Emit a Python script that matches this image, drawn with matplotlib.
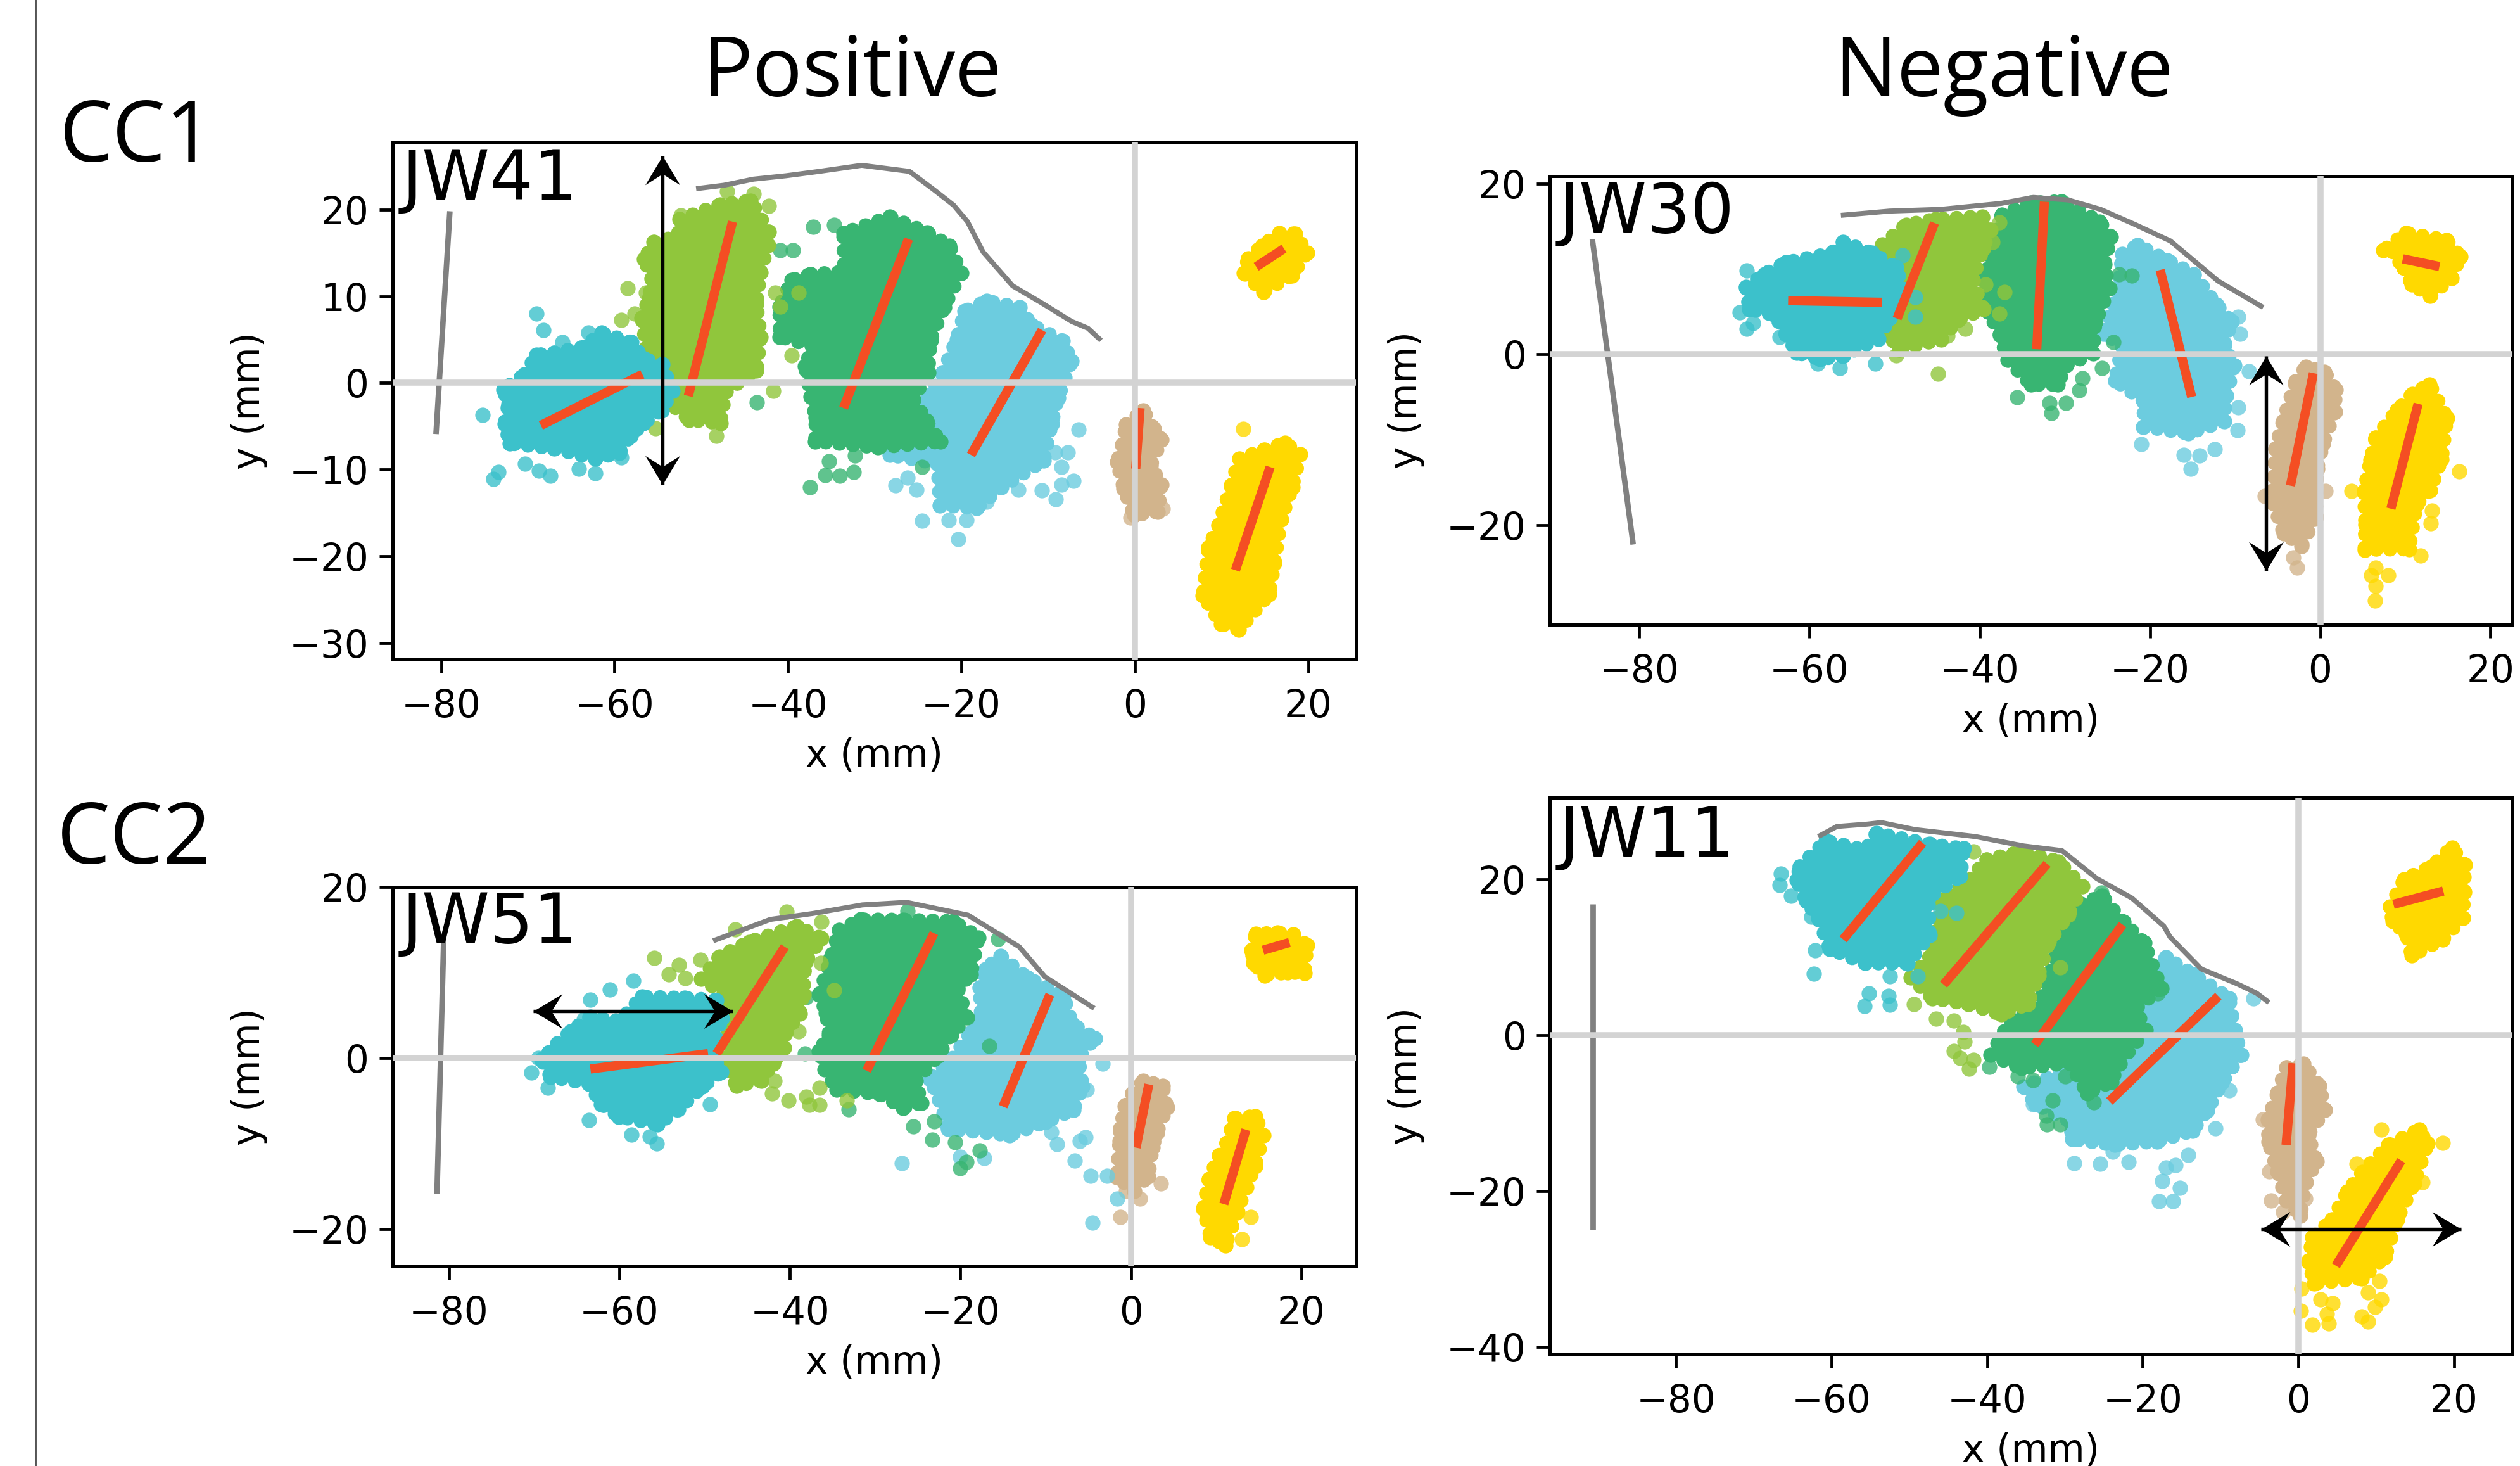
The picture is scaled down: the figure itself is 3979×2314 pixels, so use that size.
import matplotlib
matplotlib.use("Agg")
import matplotlib.pyplot as plt
from matplotlib.lines import Line2D
from matplotlib.path import Path
from matplotlib.transforms import Affine2D
import numpy as np

W, H = 3979, 2314
DPI = 300
plt.rcParams.update({"font.size": 14.3, "axes.linewidth": 1.2, "xtick.major.size": 5, "ytick.major.size": 5,
                     "xtick.major.width": 1.15, "ytick.major.width": 1.15, "axes.unicode_minus": True,
                     "xtick.major.pad": 5.9, "ytick.major.pad": 4.0, "axes.labelpad": 4.5})

CYAN, LIME, GREEN, LBLUE, TAN, GOLD = "#3CC1CB", "#90C63C", "#38B572", "#6CCCDF", "#D2B48C", "#FFD900"
RED, GREY, LGREY = "#F44E23", "#808080", "#D3D3D3"
XTICKS = [-80, -60, -40, -20, 0, 20]

# ---------------------------------------------------------------- JW41
a_cyan = [(-71.1,1.2),(-69.6,3.7),(-67.4,4.1),(-63.6,4.9),(-61.3,6.5),(-57.6,5.3),(-56,3.2),(-53.8,2.4),(-52.6,-0.9),(-53.8,-3.3),(-56,-5),(-57.6,-6.6),(-59.1,-8.7),(-62.1,-9.5),(-67.4,-8.2),(-72.7,-7.4),(-73.4,-5),(-73,-2.5),(-73.6,-0.7)]
a_cyan_s = [(-75.2,-3.7),(-69,8),(-68.2,6.1),(-74,-11.1),(-73.4,-10.3),(-70.3,-9.3),(-68.7,-10.1),(-67.4,-10.7),(-64.1,-9.9),(-62.2,-10.4),(-63,5.8),(-66,4.7),(-59.2,-8.6)]
a_lime = [(-57.6,7.3),(-56.8,9.8),(-56.4,12.3),(-57.2,14.7),(-56,16.8),(-53,17.6),(-52.7,19.6),(-47.7,21.3),(-44,21.7),(-41.7,18),(-41.7,16.4),(-42.5,13.1),(-42.9,9),(-42.5,4.9),(-43.2,0.8),(-47,-1.7),(-47.7,-5.4),(-51.5,-5),(-54.5,-2.5),(-56.8,2.8)]
a_lime_s = [(-58.5,10.9),(-56.4,10.4),(-48.3,-6.1),(-55.3,-5.2),(-59.2,7.3),(-57.7,8),(-52.4,19.3),(-42.2,20.4),(-44,21.8),(-47,22.1),(-40.9,8.8),(-38.8,10.4),(-41.5,10.4),(-39.6,3.2),(-41.7,-0.9)]
a_green = [(-37.9,13.1),(-33.8,13.5),(-33.8,18),(-28.1,19.9),(-23.6,18),(-20.9,16.4),(-19.4,13.1),(-21.3,9),(-22.8,4.9),(-23.2,0.8),(-25.1,-2.5),(-23.6,-5),(-22,-7.4),(-29.6,-8.2),(-37.2,-7.4),(-37.2,-4.6),(-37.9,-2.1),(-38.7,1.6),(-37.9,4.1),(-41.7,5.3),(-41.7,9),(-40.2,12.3)]
a_green_s = [(-37.1,18),(-34.7,18.2),(-40.9,15.3),(-39.4,15.3),(-35.3,-9),(-35.7,-10.6),(-34,-10.7),(-32.4,-10.3),(-37.5,-12),(-24.5,-9.7),(-32.3,-8.4),(-43.6,-2.2)]
a_lblue = [(-22.8,1.6),(-20.9,5.7),(-19.8,9),(-17.1,10.2),(-13,9.4),(-11.5,7.3),(-7.7,5.3),(-6.6,2.8),(-8.1,-1.7),(-8.9,-5),(-10,-9.5),(-15.3,-12.8),(-18.3,-15.2),(-22.8,-14.8),(-23.2,-9.9),(-28.9,-8.7),(-27.3,-3.3),(-24.3,-1.3)]
a_lblue_s = [(-20.4,-18),(-24.5,-15.9),(-21.5,-15.8),(-19.4,-15.8),(-6.5,-5.4),(-9.1,-13.4),(-10.7,-12.4),(-13.4,-12.3),(-7.1,-11.3),(-8.5,-11.7),(-7.7,-8),(-9.2,-8),(-8.5,-9.7),(-27.6,-11.8),(-25.2,-12.3),(-26.2,-10.9),(-17.1,-13.7)]
a_tan = [(-1.3,-4.1),(1,-2.4),(2.5,-4.6),(3.6,-6),(2.5,-9.9),(3.6,-12.3),(2.9,-15.6),(-0.2,-16),(-1.7,-12.8),(-2.8,-9.1),(-2,-6.6)]
a_tan_s = [(3.2,-14.5),(-0.5,-15.5)]
a_gold1 = [(10.8,-11.1),(11.9,-8),(15,-7),(17.6,-6.2),(19.5,-7.6),(18.7,-11.5),(17.6,-15.6),(16.5,-21.4),(15.7,-25.1),(11.9,-29.2),(9.7,-28.5),(7.4,-25.1),(7.8,-19.3),(8.9,-16.4)]
a_gold1_s = [(12.5,-5.3)]
a_gold2 = [(12.3,14.3),(14.2,16.4),(16.8,18),(19,17.8),(20.6,15.1),(18.7,11.9),(14.6,9.8),(11.9,12.3)]
a_red = [[(-68.5,-4.9),(-56.8,1)],[(-51.5,-1.5),(-46.4,18.6)],[(-33.6,-2.9),(-26.1,16.6)],[(-18.9,-8.3),(-10.7,6.1)],[(0.1,-9.9),(0.6,-2.9)],[(11.6,-21.6),(15.6,-9.7)],[(14,13.4),(17.2,15.5)]]
a_axis = [(-80.6,-5.9),(-79,19.8)]
a_top = [(-50.6,22.4),(-47.4,22.8),(-44,23.5),(-40.2,23.9),(-36.4,24.4),(-31.5,25.1),(-26,24.4),(-23.2,22.3),(-20.9,20.5),(-19.3,18.6),(-17.5,15.1),(-14.1,11.2),(-10.7,9.2),(-7.3,7.1),(-5.4,6.3),(-3.9,4.9)]
a_arrow = [(-54.5,-11.7),(-54.5,26.2)]

# ---------------------------------------------------------------- JW30
b_cyan = [(-68.2,8),(-66,9.7),(-63.3,11.3),(-57.3,12.6),(-55.8,13.9),(-52.1,12.4),(-49.1,10.5),(-48.3,7.8),(-49.8,4.1),(-51.3,1.4),(-55.8,-0.9),(-58.8,-1.3),(-61.8,-0.5),(-63.3,1.8),(-64.8,4.4),(-67.8,5.2)]
b_cyan_s = [(-67.4,9.8),(-68.2,4.9),(-67.4,3),(-66.6,3.7),(-63.5,2),(-56.4,-1.6),(-52.3,-1.1),(-59,-1.1),(-47.6,6.7),(-47.6,4.4),(-49.1,11.6)]
b_lime = [(-52.1,13.2),(-49.1,15.8),(-45.3,16.6),(-39.3,16.8),(-38.2,15.1),(-39,12.8),(-40.1,8.6),(-39,4.8),(-42.3,3.3),(-44.6,1),(-49.8,-0.1),(-51.3,1.8)]
b_lime_s = [(-44.9,-2.3),(-41.7,3),(-49.8,-0.1),(-37.7,4.8),(-37.1,7.3),(-39.3,8.2),(-38.5,13.2),(-37.7,15.5),(-43.8,2.2)]
b_green = [(-37.8,17),(-34.1,18.5),(-30.3,18.7),(-25.5,16.2),(-24,14.3),(-24.7,10.9),(-24,7.8),(-25.8,3.3),(-26.2,-0.5),(-29.6,-2),(-30.8,-4.3),(-34.1,-4.3),(-37.1,-1.3),(-38.2,1.8),(-39.7,4.8),(-40.1,9.4),(-39,13.2)]
b_green_s = [(-35.6,-5),(-31.6,-6.9),(-29.9,-5.7),(-31.8,-5.7),(-28.3,-4.2),(-27.9,-2.8),(-22.1,9.2),(-23.6,9.4),(-25.6,-1.6),(-24.3,1.4)]
b_lblue = [(-23.6,12.4),(-21.7,13.5),(-18,11.8),(-14.6,10.1),(-11.6,6.3),(-9.7,4.1),(-10.5,1),(-9.4,-1.6),(-10.5,-5.4),(-10.9,-8.5),(-15.4,-10),(-21,-9.2),(-21,-6.2),(-24.7,-3.5),(-24,1),(-26.2,2.5),(-24.3,8.2)]
b_lblue_s = [(-8.4,-2),(-9.6,-6.2),(-9.7,-8.9),(-21,-10.5),(-12.4,-11.1),(-14.2,-11.9),(-16,-11.8),(-15.2,-13.4),(-9.4,2.4),(-9.6,4.4)]
b_tan = [(-3,-2.4),(-1.7,-0.7),(0.7,-1.3),(2.2,-3.5),(2.2,-6.2),(1.1,-10.4),(0,-14.1),(-0.4,-19.8),(-2.2,-23.2),(-4.5,-21.7),(-6,-17.9),(-6,-11.1),(-4.9,-7.3)]
b_tan_s = [(-2.7,-25),(-3.2,-23.8),(-6.5,-16.6),(0.6,-16)]
b_gold1 = [(6,-9.2),(9,-5.8),(10.9,-3.9),(13.1,-2.8),(15.4,-6.9),(15,-12.2),(13.5,-16.4),(11.6,-18.3),(10.5,-23.6),(4.9,-23.6),(4.9,-20.6),(4.5,-16.4),(5.2,-12.2)]
b_gold1_s = [(16.3,-13.7),(3.7,-16),(13.1,-18.3),(13,-19.8),(11.8,-23.6),(6.4,-28.9),(6.5,-27.2),(6,-25.9),(8,-25.9),(6.5,-25)]
b_gold2 = [(9.4,12),(6.7,12.4),(9.7,14.9),(15.4,13.9),(17.2,11.6),(16.1,8.6),(13.1,6.1),(10.5,7.5),(8.6,10.9)]
b_red = [[(-62.5,6.3),(-51.5,6.1)],[(-49.7,4.2),(-45.3,15.4)],[(-33.3,0.6),(-32.4,17.9)],[(-15.1,-5),(-18.8,9.9)],[(-3.5,-15.4),(-0.8,-2.2)],[(8.3,-18.1),(11.5,-5.8)],[(9.7,11.2),(14,10.3)]]
b_axis = [(-85.5,13.5),(-80.7,-22.3)]
b_top = [(-56.3,16.3),(-50.6,16.8),(-44.6,17),(-37.5,17.7),(-33.7,18.4),(-29.6,18.1),(-25.8,17),(-21.7,15.2),(-17.6,13.3),(-12,8.6),(-6.7,5.5)]
b_arrow = [(-6.4,-0.2),(-6.4,-25.4)]

# ---------------------------------------------------------------- JW51
c_cyan = [(-68,1.8),(-66.4,3.4),(-64,5.3),(-60.3,5),(-57.3,7.9),(-51.9,7.6),(-48,7.2),(-47.3,5),(-48.4,0.5),(-47.3,-1.8),(-49.6,-3.7),(-52.6,-6.6),(-55.3,-8.5),(-60.3,-7.6),(-62.6,-6),(-64.2,-3.4),(-68.8,-2.4),(-69.9,-0.2)]
c_cyan_s = [(-70.3,-1.7),(-68.4,-3.5),(-63.6,-7.3),(-58.6,-9),(-55.6,-10),(-56.4,-9.2),(-49.4,-5.4),(-58.4,9),(-61.1,8),(-63.4,6.8),(-64.2,4.5),(-69.5,0)]
c_lime = [(-51.1,9.5),(-48.8,12.4),(-45,14.3),(-38.9,16.1),(-35.8,14.6),(-37.7,11.7),(-37.7,7.6),(-38.1,5),(-40,2.4),(-40.4,0.5),(-41.9,-1.4),(-43.4,-3.4),(-46.5,-4),(-48,-1.4),(-47.7,7.2)]
c_lime_s = [(-55.9,11.7),(-53,10.9),(-54.2,9.8),(-50.5,11.5),(-46.4,15),(-40.4,17.1),(-36.3,15.9),(-42.1,-4.2),(-40.2,-5),(-41.8,-2.7),(-38.1,-4.5),(-36.5,-5.5),(-37.7,-5.5),(-36.5,-3.5),(-33.3,-5),(-34.8,7.9),(-39,3.1),(-52.3,9.3),(-36.4,11.1)]
c_green = [(-34.6,15.6),(-31.9,16.9),(-26.6,16.9),(-20.4,16.6),(-17.3,14.6),(-18.1,10.1),(-19.6,8.5),(-18.5,4.7),(-20.4,2.4),(-22,-0.2),(-25,-3.4),(-24.3,-6),(-26.6,-6.6),(-29.6,-5),(-35,-4.3),(-36.5,-1.8),(-37.3,0.5),(-36.1,2.4),(-36.5,5.3),(-37.3,7.6),(-35.8,12.1)]
c_green_s = [(-33.1,-6),(-25.5,-8),(-23.1,-7.4),(-23.3,-9.6),(-20.6,-9.9),(-20,-12.9),(-19.3,-12.2),(-17.7,-10.8),(-16.6,1.4),(-15.6,13.9),(-26.2,17.2),(-38.2,0.5),(-38.1,7.1)]
c_lblue = [(-18.1,8.9),(-17.3,11.1),(-15.4,12.7),(-12,10.1),(-7.4,7.9),(-6.2,4.3),(-3.5,2.4),(-5.4,-0.2),(-5,-3.7),(-6.2,-6.6),(-9.7,-8.2),(-14.3,-9.8),(-21.9,-8.9),(-23.1,-5.3),(-24.3,-2.7),(-21.9,-0.5),(-19.6,3.1),(-18.1,5.6)]
c_lblue_s = [(-3.3,-0.7),(-5.2,-3.7),(-8.7,-10.1),(-6,-9.7),(-5.3,-9.3),(-6.6,-12),(-4.7,-13.8),(-1.6,-16.5),(-4.5,-19.3),(-26.9,-12.3),(-17.2,-11.7),(-20,-11.6),(-2.8,-13.8),(-9.3,-8.7)]
c_tan = [(0,-3.4),(1.5,-1.9),(4.1,-2.6),(4.8,-5.3),(3.8,-8.9),(3,-11.1),(2.2,-14.6),(0.3,-16.3),(-2,-14.6),(-2,-10.1),(-2,-8.2),(-1.1,-5)]
c_tan_s = [(-1.2,-18.6),(1.1,-16.5),(3.5,-14.7),(-0.6,-15.6)]
c_gold1 = [(11.1,-9.2),(12.2,-6.3),(14.9,-6.1),(16,-8.5),(15.3,-12.4),(14.1,-15.6),(12.6,-18.8),(11,-22.7),(9.1,-21.7),(8,-18.2),(8.4,-14.3),(9.9,-10.8)]
c_gold1_s = [(14.1,-18.6),(13,-21.2)]
c_gold2 = [(13.4,12.7),(14.1,15),(17.2,15.4),(19.5,15),(21.4,13.4),(21,9.5),(18.7,9.3),(15.3,9),(13.7,10.8)]
c_red = [[(-63.4,-1.3),(-49.6,0.5)],[(-48.6,0.5),(-40.6,13)],[(-31,-1.5),(-23.1,14.6)],[(-15,-5.7),(-9.5,7.4)],[(0.6,-10.5),(2.1,-3.1)],[(10.9,-17.1),(13.5,-8.4)],[(15.5,12.6),(18.6,13.5)]]
c_axis = [(-81.4,-15.9),(-80.6,14.3)]
c_top = [(-49,13.7),(-42.3,16.2),(-37.3,16.9),(-31.5,17.9),(-26.3,18.2),(-19.1,16.7),(-13.1,13),(-10.1,9.5),(-4.3,5.8)]
c_arrow = [(-70.1,5.5),(-46.7,5.5)]

# ---------------------------------------------------------------- JW11
d_cyan = [(-64.8,21.9),(-61.2,25.5),(-55.8,24.5),(-54.2,26.7),(-46.8,25),(-42.3,24.3),(-42.7,20.5),(-46.8,17.6),(-46.8,12.4),(-49.9,8.5),(-55.8,8.5),(-60.7,10.5),(-62.4,14.7),(-64,17.1),(-65.2,20)]
d_cyan_s = [(-66.5,20.7),(-66.7,19.3),(-65.2,17.9),(-62.6,15.2),(-62.1,10.9),(-62.3,7.9),(-55.2,5.4),(-52.7,5),(-55.8,3.7),(-52.5,3.9),(-48.9,7.6),(-52.5,7.6),(-46,15.9),(-44,15.7)]
d_lime = [(-40.2,23.3),(-35.3,24.3),(-30.4,22.9),(-27.1,19.5),(-28.8,15.7),(-31.3,11.9),(-32.9,7.1),(-34.5,3.3),(-38.2,1.9),(-42.7,3.3),(-47.6,4.2),(-50.5,7.1),(-47.6,10.5),(-46.8,17.6),(-42.7,20.5)]
d_lime_s = [(-49.4,4),(-46.6,2.1),(-44.3,1.9),(-43.1,0.4),(-44.3,-2),(-43.5,-2.9),(-42.3,-4.3),(-41.8,-3.2),(-42.9,-0.8),(-30.6,8.7),(-41.8,23.6)]
d_green = [(-28,17.6),(-25.1,18.6),(-22.2,15.2),(-19.3,12.4),(-16.9,6.2),(-20.2,3.3),(-18.9,0.4),(-22.6,-4.3),(-23.8,-6.7),(-27.1,-8.2),(-29.6,-4.3),(-36.1,-4.8),(-40.2,-2.9),(-37.7,1.9),(-34.5,3.3),(-32.9,7.1),(-31.3,11.9)]
d_green_s = [(-36.1,-5.3),(-34.1,-5.8),(-31.6,-8.4),(-32.4,-10.3),(-30.6,-11.5),(-32.3,-11.5),(-26.3,-8.6),(-25.3,18.3),(-39.7,-4.1),(-30,-5.3),(-18.1,5.4)]
d_lblue = [(-18.1,9),(-16.9,10.7),(-13.2,8.5),(-8.3,5.2),(-7.5,0.9),(-6.6,-2.4),(-9.1,-6.3),(-11.1,-10.1),(-13.2,-12.9),(-18.1,-14.4),(-23.9,-14.8),(-29.6,-13.9),(-30,-11.5),(-34.5,-9.1),(-36.1,-6.7),(-29.6,-4.3),(-23.9,-1.5),(-20.2,3.3)]
d_lblue_s = [(-5.8,4.7),(-8.9,-7.1),(-10.7,-12),(-28.8,-16.4),(-25.5,-16.5),(-21.8,-16.3),(-23.9,-15),(-14.2,-15.4),(-15.8,-16.7),(-17,-17),(-17.5,-18.7),(-15.2,-19.6),(-17.9,-21.3),(-16.1,-21.3),(-34.1,-8.9)]
d_tan = [(-3,-6.7),(-1.7,-3.4),(0.7,-2.9),(3,-5.8),(4,-9.1),(2,-12.9),(2.8,-16.8),(1.1,-19.6),(0.3,-23.9),(-1.7,-22),(-3,-18.2),(-4.6,-13.9),(-4.6,-10.5)]
d_tan_s = [(-3.5,-21.2),(0.9,-21),(-2,-22.7),(-3.8,-17.5),(-4.6,-10.8)]
d_gold1 = [(3.6,-23.9),(5.7,-19.6),(8.1,-16.8),(11.8,-13.4),(15.9,-11.5),(17.1,-13.4),(15.5,-18.7),(13.4,-23.9),(11.4,-29.2),(8.1,-32),(1.6,-32.5),(0.7,-29.6),(1.1,-26.3)]
d_gold1_s = [(18.5,-13.8),(10.6,-12.1),(7.5,-16.5),(15.9,-18.9),(0.4,-32.5),(0.3,-35.4),(1.8,-37.2),(3.9,-37),(3.6,-35.8),(2.8,-33.9),(8.9,-36.8),(8.1,-36.1),(9.8,-34.9),(10.6,-33.9),(8.9,-33),(10.4,-31.6),(4.4,-34.4)]
d_gold2 = [(11,16.4),(13,20.5),(17.1,22.4),(20,24.8),(21.9,22.4),(22,18.6),(21.8,14.7),(18.8,11.6),(14.3,9.5),(13.4,12.4),(11.4,14.3)]
d_red = [[(-58.5,12.3),(-48.3,24.7)],[(-45.6,6.5),(-32.3,22)],[(-33.9,-1.2),(-22.6,14.2)],[(-24.3,-8.5),(-10.3,5)],[(-1.6,-14.1),(-0.7,-3.6)],[(4.8,-29.6),(13.2,-16.1)],[(12.2,16.8),(18.6,18.5)]]
d_axis = [(-90.7,-25),(-90.7,16.8)]
d_top = [(-61.7,25.5),(-59.3,26.8),(-55.4,27.1),(-53.6,27.3),(-49.3,26.4),(-41.5,25.5),(-35.3,24.3),(-30.4,23.7),(-25.9,20.1),(-21.4,17.6),(-17.3,14),(-16.5,12.6),(-12.5,8.5),(-7.9,6.6),(-5.4,5.4),(-3.8,4.2)]
d_arrow = [(-4.8,-24.9),(20.9,-24.9)]


def rect(l, r, t, b):
    return [l / W, 1 - b / H, (r - l) / W, (b - t) / H]


fig = plt.figure(figsize=(W / DPI, H / DPI), dpi=DPI)

# concave arrow head, tip at the origin, pointing along +x
HEAD = Path([(0, 0), (-1, 0.6), (-0.62, 0), (-1, -0.6), (0, 0)],
            [Path.MOVETO, Path.LINETO, Path.LINETO, Path.LINETO, Path.CLOSEPOLY])


def cluster(ax, outline, strays, color, z):
    o = np.array(outline, float)
    s = np.array(strays, float) if strays else np.empty((0, 2))
    c = o.mean(axis=0)
    d = o - c
    edge = c + d * (1 - 0.75 / np.hypot(d[:, 0], d[:, 1]))[:, None]   # dot centres sit inside the outer edge
    ax.fill(edge[:, 0], edge[:, 1], facecolor=color, edgecolor=color, lw=1.5, joinstyle="round", zorder=z)
    ring = np.vstack([edge, edge[:1]])
    # scalloped rim: a dotted stroke whose round caps look like overlapping scatter dots
    ax.plot(ring[:, 0], ring[:, 1], color=color, lw=5.4, ls=(0, (0.01, 0.95)), dash_capstyle="round", zorder=z)
    ax.scatter(edge[:, 0], edge[:, 1], s=34, color=color, lw=0, zorder=z)
    if len(s):
        ax.scatter(s[:, 0], s[:, 1], s=34, color=color, alpha=0.8, lw=0, zorder=z)


def double_arrow(ax, arrow):
    p = np.array(arrow, float)
    ax.plot(p[:, 0], p[:, 1], color="black", lw=1.3, zorder=6, solid_capstyle="butt")
    v = p[1] - p[0]
    ang = np.degrees(np.arctan2(v[1], v[0]))
    for xy, a in ((p[1], ang), (p[0], ang + 180)):
        m = matplotlib.markers.MarkerStyle(HEAD, transform=Affine2D().rotate_deg(a))
        ax.plot([xy[0]], [xy[1]], marker=m, ms=22, color="black", mew=0, zorder=6, clip_on=False)


def panel(box, xlim, ylim, yticks, name, name_xy, groups, red, axis, top, arrow):
    ax = fig.add_axes(rect(*box))
    colors = [GOLD, GOLD, TAN, LBLUE, GREEN, LIME, CYAN]
    for i, ((o, s), col) in enumerate(zip(groups, colors)):
        cluster(ax, o, s, col, 2 + i * 0.1)
    for seg in red:
        p = np.array(seg)
        ax.plot(p[:, 0], p[:, 1], color=RED, lw=3.5, solid_capstyle="butt", zorder=3)
    for seg, lw in ((axis, 2.1), (top, 1.9)):
        p = np.array(seg)
        ax.plot(p[:, 0], p[:, 1], color=GREY, lw=lw, solid_capstyle="butt", zorder=4)
    ax.axhline(0, color=LGREY, lw=2.3, zorder=5)
    ax.axvline(0, color=LGREY, lw=2.3, zorder=5)
    double_arrow(ax, arrow)
    ax.set_xlim(*xlim)
    ax.set_ylim(*ylim)
    ax.set_xticks(XTICKS)
    ax.set_yticks(yticks)
    ax.set_xlabel("x (mm)", labelpad=4.5)
    ax.set_ylabel("y (mm)", labelpad=8)
    fig.text(name_xy[0] / W, 1 - name_xy[1] / H, name, fontsize=26, ha="left", va="baseline", zorder=10)
    return ax


panel((620, 2141, 224, 1041), (-85.6, 25.5), (-31.9, 27.8), [-30, -20, -10, 0, 10, 20], "JW41", (635, 315),
      [(a_gold1, a_gold1_s), (a_gold2, []), (a_tan, a_tan_s), (a_lblue, a_lblue_s), (a_green, a_green_s), (a_lime, a_lime_s), (a_cyan, a_cyan_s)],
      a_red, a_axis, a_top, a_arrow)
panel((2447, 3966, 278, 986), (-90.5, 22.5), (-31.7, 20.9), [-20, 0, 20], "JW30", (2462, 367),
      [(b_gold1, b_gold1_s), (b_gold2, []), (b_tan, b_tan_s), (b_lblue, b_lblue_s), (b_green, b_green_s), (b_lime, b_lime_s), (b_cyan, b_cyan_s)],
      b_red, b_axis, b_top, b_arrow)
panel((620, 2141, 1400, 1999), (-86.6, 26.4), (-24.4, 20), [-20, 0, 20], "JW51", (635, 1488),
      [(c_gold1, c_gold1_s), (c_gold2, []), (c_tan, c_tan_s), (c_lblue, c_lblue_s), (c_green, c_green_s), (c_lime, c_lime_s), (c_cyan, c_cyan_s)],
      c_red, c_axis, c_top, c_arrow)
panel((2447, 3966, 1259, 2138), (-96.2, 27.4), (-41, 30.5), [-40, -20, 0, 20], "JW11", (2462, 1352),
      [(d_gold1, d_gold1_s), (d_gold2, []), (d_tan, d_tan_s), (d_lblue, d_lblue_s), (d_green, d_green_s), (d_lime, d_lime_s), (d_cyan, d_cyan_s)],
      d_red, d_axis, d_top, d_arrow)

OS = "Open Sans"
fig.text(1345 / W, 1 - 152 / H, "Positive", family=OS, fontsize=31.5, ha="center", va="baseline")
fig.text(3164 / W, 1 - 152 / H, "Negative", family=OS, fontsize=31.5, ha="center", va="baseline")
fig.text(94 / W, 1 - 255 / H, "CC1", family=OS, fontsize=32, ha="left", va="baseline")
fig.text(90 / W, 1 - 1363 / H, "CC2", family=OS, fontsize=32, ha="left", va="baseline")
fig.add_artist(Line2D([56 / W, 56 / W], [0, 1], color="#555555", lw=0.7))

fig.savefig("out.png", dpi=DPI)
